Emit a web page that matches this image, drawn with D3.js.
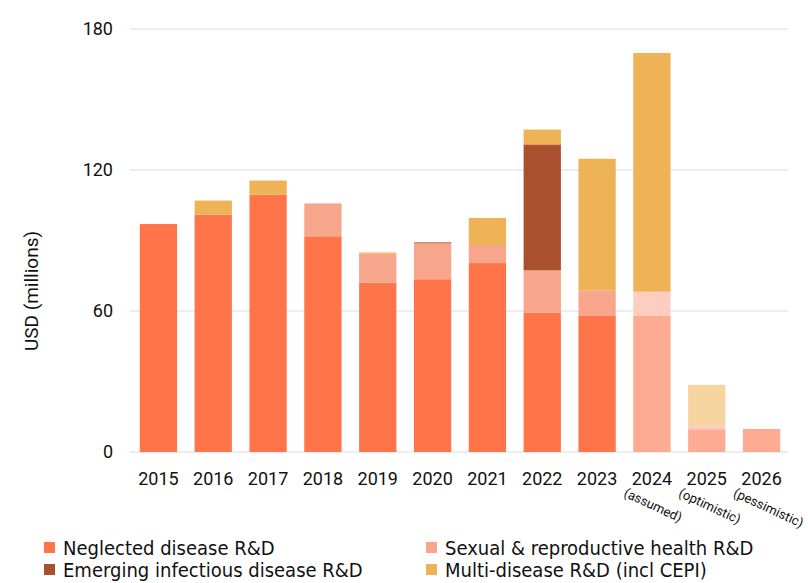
<!DOCTYPE html>
<html>
<head>
<meta charset="utf-8">
<script src="https://cdn.jsdelivr.net/npm/d3@7"></script>
<style>
  body { margin: 0; background: #fff; }
  svg { display: block; font-family: Roboto, "Noto Sans", sans-serif; }
</style>
</head>
<body>
<script>
// data (USD millions)
let years = ['2015','2016','2017','2018','2019','2020','2021','2022','2023','2024','2025','2026'];
let notes = ['', '', '', '', '', '', '', '', '', '(assumed)', '(optimistic)', '(pessimistic)'];
let neglected     = [97, 101, 109.5, 91.8, 72, 73.5, 80.4, 59.3, 57.9, 0, 0, 0];
let neglectedProj = [0, 0, 0, 0, 0, 0, 0, 0, 0, 57.9, 9.7, 9.8];
let sexual        = [0, 0, 0, 14, 12.4, 15.3, 7.7, 18, 10.9, 0, 0, 0];
let sexualProj    = [0, 0, 0, 0, 0, 0, 0, 0, 0, 10.3, 1.8, 0];
let emerging      = [0, 0, 0, 0, 0, 0.4, 0, 53.6, 0, 0, 0, 0];
let multi         = [0, 6, 6, 0, 0.5, 0, 11.5, 6.3, 56, 101.6, 0, 0];
let multiProj     = [0, 0, 0, 0, 0, 0, 0, 0, 0, 0, 17.1, 0];
let yTicks = [0, 60, 120, 180];

let keys = ['neglected', 'neglectedProj', 'sexual', 'sexualProj', 'emerging', 'multi', 'multiProj'];
let colors = {
    neglected: '#ff7549', neglectedProj: '#fdab93',
    sexual: '#f8a68b', sexualProj: '#fdcdbf',
    emerging: '#a9502f',
    multi: '#eeb357', multiProj: '#f5d49f'
};
let series = { neglected, neglectedProj, sexual, sexualProj, emerging, multi, multiProj };

let rows = years.map((y, i) => {
    let r = { year: y };
    keys.forEach(k => r[k] = series[k][i]);
    return r;
});

let width = 808, height = 583;
let svg = d3.select('body').append('svg')
    .attr('width', width).attr('height', height);

let x = d3.scaleBand().domain(years).range([131, 789])
    .paddingInner(0.32).paddingOuter(0.16);
let y = d3.scaleLinear().domain([0, 180]).range([452, 29]);

// gridlines + y labels
svg.selectAll('line.grid').data(yTicks).enter().append('line')
    .attr('x1', 130).attr('x2', 788)
    .attr('y1', d => y(d)).attr('y2', d => y(d))
    .attr('stroke', '#dcdcdc').attr('stroke-width', 1);

svg.selectAll('text.ytick').data(yTicks).enter().append('text')
    .attr('x', 113).attr('y', d => y(d))
    .attr('dy', '0.36em')
    .attr('text-anchor', 'end')
    .attr('font-size', 18).attr('fill', '#111')
    .text(d => d);

svg.append('text')
    .attr('transform', 'translate(38,' + 291 + ') rotate(-90)')
    .attr('text-anchor', 'middle')
    .attr('font-size', 19).attr('fill', '#111')
    .text('USD (millions)');

// stacked bars
let stacked = d3.stack().keys(keys)(rows);
svg.selectAll('g.layer').data(stacked).enter().append('g')
    .attr('fill', d => colors[d.key])
    .selectAll('rect').data(d => d).enter().append('rect')
    .attr('x', d => x(d.data.year))
    .attr('width', x.bandwidth())
    .attr('y', d => y(d[1]))
    .attr('height', d => y(d[0]) - y(d[1]));

// x labels
svg.selectAll('text.xtick').data(years).enter().append('text')
    .attr('x', d => x(d) + x.bandwidth() / 2)
    .attr('y', 485)
    .attr('text-anchor', 'middle')
    .attr('font-size', 18).attr('fill', '#111')
    .text(d => d);

svg.selectAll('text.note').data(years.filter((d, i) => notes[i])).enter().append('text')
    .attr('transform', d => 'translate(' + (x(d) + x.bandwidth() / 2 - 29) + ',496) rotate(25)')
    .attr('font-size', 13).attr('fill', '#111')
    .text(d => notes[years.indexOf(d)]);

// legend
let legend = [
    { key: 'neglected', label: 'Neglected disease R&D', lx: 44, ly: 548 },
    { key: 'emerging', label: 'Emerging infectious disease R&D', lx: 44, ly: 570 },
    { key: 'sexual', label: 'Sexual & reproductive health R&D', lx: 426, ly: 548 },
    { key: 'multi', label: 'Multi-disease R&D (incl CEPI)', lx: 426, ly: 570 }
];
let lg = svg.selectAll('g.legend').data(legend).enter().append('g')
    .attr('transform', d => 'translate(' + d.lx + ',' + d.ly + ')');
lg.append('rect')
    .attr('x', 0).attr('y', -6).attr('width', 11).attr('height', 11)
    .attr('fill', d => colors[d.key]);
lg.append('text')
    .attr('x', 19).attr('dy', '0.36em')
    .attr('font-family', '"DejaVu Sans Condensed", "DejaVu Sans", sans-serif')
    .attr('font-size', 20).attr('fill', '#111')
    .text(d => d.label);
</script>
</body>
</html>
